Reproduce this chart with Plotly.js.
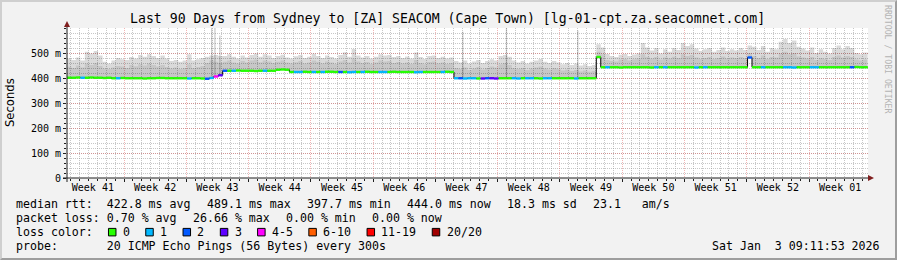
<!DOCTYPE html>
<html><head><meta charset="utf-8">
<script src="https://cdn.plot.ly/plotly-3.0.1.min.js"></script>
<style>
html,body{margin:0;padding:0;background:#f2f2f2;}
#frame{width:893px;height:256px;border-style:solid;border-width:2px;border-color:#cfcfcf #9e9e9e #9e9e9e #cfcfcf;background:#f2f2f2;}
#chart{width:893px;height:256px;}
</style></head>
<body><div id="frame"><div id="chart"></div></div>
<script>
// ---------------- data ----------------
const chartTitle = 'Last 90 Days from Sydney to [ZA] SEACOM (Cape Town) [lg-01-cpt.za.seacomnet.com]';
const spanDays = 90.04;          // x range in days since graph start
const stepDays = 0.5;            // sample spacing of the series below
const firstWeekBoundary = 6.41;  // day of first week grid line
const weekLabels = ['Week 41','Week 42','Week 43','Week 44','Week 45','Week 46','Week 47',
                    'Week 48','Week 49','Week 50','Week 51','Week 52','Week 01'];
const yTickVals = [0, 100, 200, 300, 400, 500];
const yTickText = ['0', '100 m', '200 m', '300 m', '400 m', '500 m'];

// median rtt (ms)
const medianRtt = [
 401,401,402,401,401,402,401,401,400,401,
 399,399,400,399,399,399,399,398,399,399,
 400,400,399,399,399,399,399,398,399,399,
 398,397,400,406,411,429,429,429,430,429,
 429,429,428,429,429,429,429,433,434,433,
 424,424,424,425,424,424,424,424,425,425,
 424,424,424,423,424,424,424,425,424,424,
 424,424,424,425,424,424,424,424,423,424,
 424,424,424,424,424,425,424,399,399,398,
 399,399,398,398,399,399,398,399,399,399,
 399,398,399,399,399,399,398,399,399,399,
 399,399,399,399,398,399,399,399,399,484,
 443,443,443,443,442,443,443,443,443,443,
 443,442,443,443,443,443,443,443,443,443,
 443,442,443,443,443,443,443,443,443,443,
 443,443,443,482,443,443,443,443,443,443,
 443,443,443,442,443,443,443,443,443,443,
 443,443,443,443,443,443,443,444,443,443,
 443];

// lost pings (of 20) per sample
const lostPings = [
 0,0,0,1,0,0,0,0,0,0,
 0,1,0,0,0,0,0,0,0,0,
 0,0,0,0,0,0,0,1,0,0,
 0,2,1,4,3,2,0,1,0,0,
 0,0,0,0,1,0,0,0,0,0,
 0,1,1,0,0,1,0,1,0,0,
 0,2,0,1,1,0,1,0,0,0,
 1,1,0,0,0,0,0,0,1,1,
 0,0,0,0,1,0,0,1,2,1,
 1,1,0,3,2,3,3,0,0,0,
 1,1,0,1,1,0,0,1,1,0,
 0,0,0,0,1,0,0,0,0,0,
 0,1,0,0,0,0,0,0,0,0,
 0,0,1,0,1,0,0,0,0,0,
 0,1,0,1,0,0,0,0,0,0,
 0,0,0,2,0,0,1,0,0,0,
 0,1,1,1,0,0,0,1,1,0,
 0,0,0,0,0,0,2,0,0,0,
 0];

// highest ping of each sample (outer smoke, ms)
const smokeMax = [
 478,472,482,470,505,498,508,490,465,458,
 470,480,475,472,484,478,492,485,495,488,
 480,490,478,468,472,465,470,495,470,475,
 480,485,490,492,488,488,495,485,478,490,
 482,492,498,485,495,490,480,488,493,482,
 478,487,492,480,485,497,488,480,490,484,
 478,492,503,485,516,490,482,488,478,485,
 495,490,492,484,488,480,486,478,502,484,
 476,488,490,480,485,478,482,468,462,470,
 458,466,472,460,468,475,470,488,492,485,
 470,462,468,458,465,470,476,465,460,468,
 462,455,460,452,458,450,455,448,452,535,
 522,496,488,484,493,496,488,494,498,540,
 522,510,520,498,515,505,520,512,540,528,
 535,518,508,515,520,505,512,522,508,515,
 510,520,512,530,525,512,528,505,520,515,
 545,556,540,550,525,518,510,522,500,515,
 505,498,520,530,515,528,520,500,495,502,
 490];

// dense part of the smoke (ms)
const smokeDense = [
 445,440,450,442,458,452,460,448,438,436,
 442,448,446,440,452,447,455,450,458,452,
 446,452,444,438,442,436,440,455,440,444,
 448,460,470,465,460,465,470,462,458,468,
 462,470,474,463,470,466,460,465,470,462,
 458,463,468,458,462,470,465,458,466,462,
 456,466,472,462,478,466,460,464,456,462,
 470,466,468,460,464,458,462,456,472,460,
 455,464,466,458,462,456,460,440,436,442,
 432,438,444,434,440,446,442,455,460,452,
 440,436,440,432,438,442,446,438,434,440,
 436,430,434,428,432,426,430,425,428,505,
 495,472,468,466,474,476,470,475,478,495,
 485,478,484,474,482,478,485,480,495,488,
 492,482,476,480,484,476,480,486,478,482,
 480,484,480,500,488,480,490,476,484,482,
 498,505,495,500,486,482,478,484,472,480,
 476,472,484,490,482,488,484,474,470,474,
 468];

// isolated outlier pings (day, ms)
const spikeDay = [16.26, 16.63, 17.19, 44.49, 49.40, 57.42];
const spikeTop = [600, 600, 570, 585, 600, 590];

// loss colour legend
const lossLabels = ['0', '1', '2', '3', '4-5', '6-10', '11-19', '20/20'];
const lossUpper  = [0, 1, 2, 3, 5, 10, 19, 20];
const lossColors = ['#26ff00', '#00b8ff', '#0059ff', '#5e00ff', '#ff00ff', '#ff5e00', '#ff0000', '#a10000'];

const medianStats = ['median rtt:  422.8 ms avg', '489.1 ms max', '397.7 ms min', '444.0 ms now', '18.3 ms sd', '23.1   am/s'];
const lossStats   = ['packet loss: 0.70 % avg', '26.66 % max', '0.00 % min', '0.00 % now'];
const lossColorLabel = 'loss color:';
const probeText = 'probe:       20 ICMP Echo Pings (56 Bytes) every 300s';
const dateText  = 'Sat Jan  3 09:11:53 2026';
const yAxisTitle = 'Seconds';
const sideText = 'RRDTOOL / TOBI OETIKER';

// ---------------- build ----------------
const MONO = 'DejaVu Sans Mono, monospace';
const days = medianRtt.map((_, i) => i * stepDays);
const nbsp = s => s.replace(/ /g, '\u00a0');

// plot-area geometry in page pixels (frame border 2px)
const PL = 67, PT = 28, PW = 801, PH = 150;
const px = ax => (ax - PL) / PW;
const py = ay => (PT + PH - ay) / PH;

const traces = [];
const stepLine = {shape: 'hv', width: 0, color: 'rgba(0,0,0,0)'};
traces.push({x: days, y: medianRtt, mode: 'lines', line: stepLine, hoverinfo: 'skip', showlegend: false});
traces.push({x: days, y: smokeMax, mode: 'lines', line: stepLine, fill: 'tonexty', fillcolor: 'rgba(0,0,0,0.145)', hoverinfo: 'skip', showlegend: false});
traces.push({x: days, y: medianRtt, mode: 'lines', line: stepLine, hoverinfo: 'skip', showlegend: false});
traces.push({x: days, y: smokeDense, mode: 'lines', line: stepLine, fill: 'tonexty', fillcolor: 'rgba(0,0,0,0.085)', hoverinfo: 'skip', showlegend: false});

// outlier spikes
const sx = [], sy = [];
spikeDay.forEach((d, k) => {
  const base = medianRtt[Math.round(d / stepDays)];
  sx.push(d, d, null); sy.push(base, spikeTop[k], null);
});
traces.push({x: sx, y: sy, mode: 'lines', line: {color: 'rgba(0,0,0,0.2)', width: 1.3}, hoverinfo: 'skip', showlegend: false});

// median step line (black risers)
traces.push({x: days, y: medianRtt, mode: 'lines', line: {shape: 'hv', color: '#000', width: 1}, hoverinfo: 'skip', showlegend: false});

// coloured median segments by loss
const binOf = n => lossUpper.findIndex(u => n <= u);
lossColors.forEach((col, b) => {
  const x = [], y = [];
  days.forEach((d, i) => {
    if (binOf(lostPings[i]) !== b) return;
    const d1 = i + 1 < days.length ? days[i + 1] : spanDays;
    x.push(d, d1, null); y.push(medianRtt[i], medianRtt[i], null);
  });
  if (x.length) traces.push({x, y, mode: 'lines', line: {color: col, width: 2.4}, hoverinfo: 'skip', showlegend: false});
});

// dummy trace for the label axis
const weekMid = weekLabels.map((_, k) => firstWeekBoundary - 3.5 + 7 * k);
traces.push({x: [weekMid[0]], y: [null], xaxis: 'x2', yaxis: 'y', mode: 'markers', hoverinfo: 'skip', showlegend: false});

// annotations
const ann = [];
const T = (text, ax, ay, o) => Object.assign({
  text: nbsp(text), xref: 'paper', yref: 'paper', x: px(ax), y: py(ay),
  xanchor: 'left', yanchor: 'middle', showarrow: false, borderpad: 0, borderwidth: 0,
  font: {family: MONO, size: 11.6, color: '#000'}
}, o || {});

const CH = 6.98, GAP = 16.3, LX = 15.7, BOXW = 14;
let xpos = LX;
medianStats.forEach(s => { ann.push(T(s, xpos, 204)); xpos += s.length * CH + GAP; });
xpos = LX;
lossStats.forEach(s => { ann.push(T(s, xpos, 218.3)); xpos += s.length * CH + GAP; });
ann.push(T(lossColorLabel, LX, 232.3));
const shapes = [];
xpos = LX + lossColorLabel.length * CH + GAP;
lossLabels.forEach((lab, k) => {
  shapes.push({type: 'rect', xref: 'paper', yref: 'paper', x0: px(xpos - 0.3), x1: px(xpos + 7.2), y0: py(228.4), y1: py(235.9),
               fillcolor: lossColors[k], line: {color: '#000', width: 1}, layer: 'above'});
  ann.push(T(lab, xpos + BOXW, 232.3));
  xpos += BOXW + lab.length * CH + GAP;
});
ann.push(T(probeText, LX, 246));
ann.push(T(dateText, 880.5, 246, {xanchor: 'right'}));
ann.push(T(chartTitle, 447, 18.5, {xanchor: 'center', font: {family: MONO, size: 13.2, color: '#000'}}));
ann.push(T(yAxisTitle, 10, 103, {xanchor: 'center', textangle: -90, font: {family: 'DejaVu Sans, sans-serif', size: 11.6, color: '#000'}}));
ann.push(T(sideText, 888, 59, {xanchor: 'center', textangle: 90, font: {family: MONO, size: 8.2, color: '#b4b4b4'}}));

// axis lines and arrows
const AX = '#1f1f1f', ARR = '#801f1f';
shapes.push({type: 'line', xref: 'paper', yref: 'paper', x0: px(63), x1: px(869), y0: 0, y1: 0, line: {color: AX, width: 1}, layer: 'above'});
shapes.push({type: 'line', xref: 'paper', yref: 'paper', x0: 0, x1: 0, y0: py(182), y1: py(26), line: {color: AX, width: 1}, layer: 'above'});
shapes.push({type: 'path', xref: 'paper', yref: 'paper', path:
  `M ${px(868)},${py(175)} L ${px(874)},${py(178)} L ${px(868)},${py(181)} Z`, fillcolor: ARR, line: {width: 0}, layer: 'above'});
shapes.push({type: 'path', xref: 'paper', yref: 'paper', path:
  `M ${px(64)},${py(27)} L ${px(67)},${py(21)} L ${px(70)},${py(27)} Z`, fillcolor: ARR, line: {width: 0}, layer: 'above'});

const GRID = 'rgba(143,143,143,0.5)', MGRID = 'rgba(222,79,79,0.42)';
const layout = {
  width: 893, height: 256,
  margin: {l: PL - 2, r: 893 - (PL - 2) - PW, t: PT - 2, b: 256 - (PT - 2) - PH, pad: 0},
  paper_bgcolor: '#f2f2f2', plot_bgcolor: '#ffffff',
  showlegend: false,
  xaxis: {
    type: 'linear', range: [0, spanDays], fixedrange: true,
    tickmode: 'linear', tick0: firstWeekBoundary, dtick: 7,
    showticklabels: false, ticks: 'outside', ticklen: 3, tickcolor: AX,
    showgrid: true, gridcolor: MGRID, griddash: '1px,1px', gridwidth: 1,
    zeroline: false, showline: false,
    minor: {tickmode: 'linear', tick0: firstWeekBoundary, dtick: 1, showgrid: true, gridcolor: GRID, griddash: '1px,1px', ticks: 'outside', ticklen: 2, tickcolor: AX}
  },
  xaxis2: {
    overlaying: 'x', anchor: 'y', side: 'bottom', type: 'linear', range: [0, spanDays], fixedrange: true,
    tickmode: 'array', tickvals: weekMid, ticktext: weekLabels, ticks: '',
    ticklabelstandoff: 2,
    showgrid: false, zeroline: false, showline: false,
    tickfont: {family: MONO, size: 10, color: '#000'}
  },
  yaxis: {
    range: [0, 600], fixedrange: true,
    tickmode: 'array', tickvals: yTickVals, ticktext: yTickText,
    ticks: 'outside', ticklen: 3, tickcolor: AX,
    tickfont: {family: MONO, size: 10, color: '#000'},
    showgrid: true, gridcolor: MGRID, griddash: '1px,1px', gridwidth: 1,
    zeroline: false, showline: false,
    minor: {tickmode: 'linear', tick0: 0, dtick: 20, showgrid: true, gridcolor: GRID, griddash: '1px,1px', ticks: 'outside', ticklen: 2, tickcolor: AX}
  },
  annotations: ann,
  shapes: shapes
};
Plotly.newPlot('chart', traces, layout, {displayModeBar: false, staticPlot: true});
</script>
</body></html>
